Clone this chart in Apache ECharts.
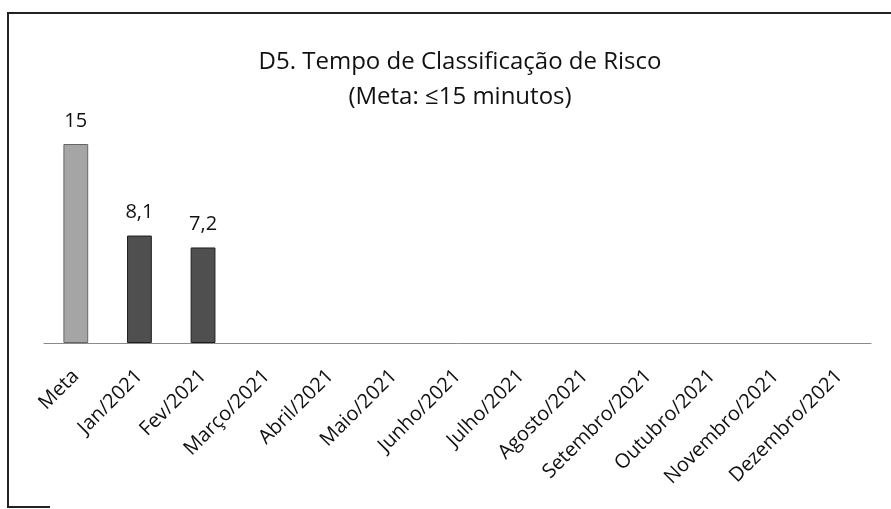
<!DOCTYPE html>
<html>
<head>
<meta charset="utf-8">
<script src="https://cdn.jsdelivr.net/npm/echarts@6/dist/echarts.min.js"></script>
<style>
html, body { margin: 0; padding: 0; background: #fff; }
#chart { width: 891px; height: 509px; }
</style>
</head>
<body>
<div id="chart"></div>
<script>
var categorias = ['Meta', 'Jan/2021', 'Fev/2021', 'Março/2021', 'Abril/2021', 'Maio/2021', 'Junho/2021',
	'Julho/2021', 'Agosto/2021', 'Setembro/2021', 'Outubro/2021', 'Novembro/2021', 'Dezembro/2021'];
var valores = [15, 8.1, 7.2, null, null, null, null, null, null, null, null, null, null];
var corMeta = '#a5a5a5';
var corMes = '#4f4f4f';

var myChart = echarts.init(document.getElementById('chart'));
var dados = [];
for (var i = 0; i < valores.length; i++) {
	dados.push({
		value : valores[i],
		itemStyle : {
			color : i == 0 ? corMeta : corMes,
			borderColor : i == 0 ? '#666' : '#1e1e1e',
			borderWidth : 1
		}
	});
}
var option = {
	animation : false,
	backgroundColor : '#fff',
	title : {
		text : 'D5. Tempo de Classificação de Risco\n(Meta: ≤15 minutos)',
		left : 455,
		textAlign : 'center',
		top : 40,
		textStyle : {
			fontFamily : 'Open Sans',
			fontSize : 24,
			fontWeight : 'normal',
			color : '#111',
			lineHeight : 35
		}
	},
	grid : {
		left : 44,
		right : 20,
		top : 144,
		bottom : 166
	},
	xAxis : {
		type : 'category',
		data : categorias,
		axisTick : { show : false },
		axisLine : { lineStyle : { color : '#8a8a8a', width : 1 } },
		axisLabel : {
			rotate : 45,
			interval : 0,
			margin : 30,
			fontFamily : 'Open Sans',
			fontSize : 20,
			color : '#111'
		}
	},
	yAxis : {
		type : 'value',
		min : 0,
		max : 15,
		show : false
	},
	series : [ {
		type : 'bar',
		barWidth : '39%',
		data : dados,
		label : {
			show : true,
			position : 'top',
			distance : 13,
			fontFamily : 'Open Sans',
			fontSize : 20,
			color : '#111',
			formatter : function(p) {
				return String(p.value).replace('.', ',');
			}
		}
	} ],
	graphic : [ {
		type : 'polyline',
		shape : { points : [[891, 13], [8, 13], [8, 507], [50, 507]] },
		style : { stroke : '#222', lineWidth : 2, fill : null }
	} ]
};
myChart.setOption(option);
</script>
</body>
</html>
